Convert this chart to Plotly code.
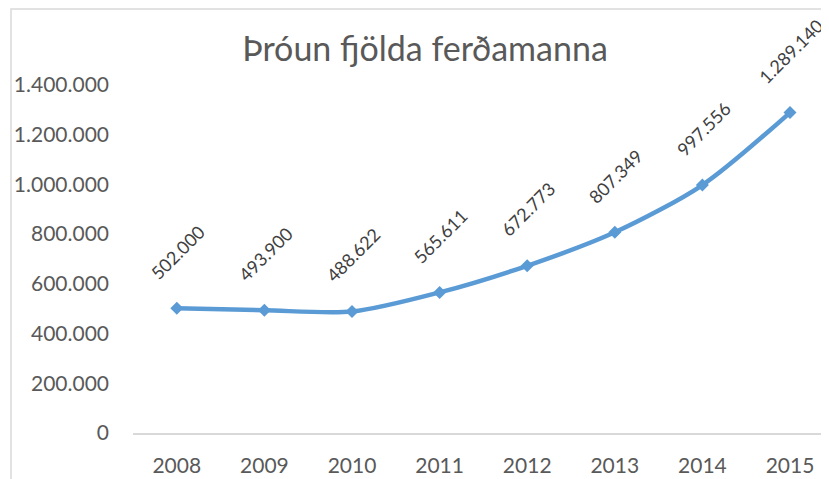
import plotly.graph_objects as go

years = ["2008", "2009", "2010", "2011", "2012", "2013", "2014", "2015"]
visitors = [502000, 493900, 488622, 565611, 672773, 807349, 997556, 1289140]
y_ticks = [0, 200000, 400000, 600000, 800000, 1000000, 1200000, 1400000]
title_text = "Þróun fjölda ferðamanna"

# page body has an 8px margin, so the figure is drawn 8px smaller and offset
OFF = 8
W, H = 829 - OFF, 479 - OFF
L, R, T, B = 133 - OFF, 0, 85 - OFF, 46
plot_w = W - L - R
plot_h = H - T - B
FONT = "Lato, Open Sans, sans-serif"

def fmt(v):
    return f"{v:,}".replace(",", ".")

fig = go.Figure()
fig.add_trace(go.Scatter(
    x=list(range(len(years))), y=visitors,
    mode="lines+markers",
    line=dict(color="#5B9BD5", width=4.5, shape="spline", smoothing=0.8),
    marker=dict(symbol="diamond", size=10, color="#5B9BD5"),
    cliponaxis=False,
    hoverinfo="skip",
))

annotations = []
for i, v in enumerate(visitors):
    annotations.append(dict(
        x=i, y=v, xref="x", yref="y",
        text=fmt(v), showarrow=False, textangle=-45,
        xanchor="center", yanchor="bottom", yshift=22, xshift=1,
        font=dict(family=FONT, size=18, color="#404040"),
    ))

fig.update_layout(
    width=W, height=H,
    margin=dict(l=L, r=R, t=T, b=B, pad=0),
    paper_bgcolor="white", plot_bgcolor="white",
    separators=",.",
    showlegend=False,
    title=dict(text=title_text, x=(425 - OFF) / W, xanchor="center",
               y=1 - (49 - OFF) / H, yanchor="middle",
               font=dict(family=FONT, size=34, color="#595959")),
    xaxis=dict(
        tickmode="array", tickvals=list(range(len(years))), ticktext=years,
        range=[-0.5, -0.5 + plot_w / 87.6],
        showgrid=False, zeroline=False,
        showline=True, linecolor="#D9D9D9", linewidth=1.5,
        ticks="", ticklabelstandoff=13,
        tickfont=dict(family=FONT, size=21, color="#595959"),
        fixedrange=True,
    ),
    yaxis=dict(
        range=[0, 1400000], tickvals=y_ticks, tickformat=",d",
        showgrid=False, zeroline=False, showline=False,
        ticks="", ticklabelstandoff=23,
        tickfont=dict(family=FONT, size=21, color="#595959"),
        fixedrange=True,
    ),
    annotations=annotations,
    shapes=[dict(
        type="rect", xref="paper", yref="paper",
        x0=(11 - 133) / plot_w, x1=(W + 50 - L) / plot_w,
        y0=-200 / plot_h, y1=(H - B - 1) / plot_h,
        line=dict(color="#D9D9D9", width=1.5), fillcolor="rgba(0,0,0,0)", layer="below",
    )],
)

fig.write_html("out.html")
